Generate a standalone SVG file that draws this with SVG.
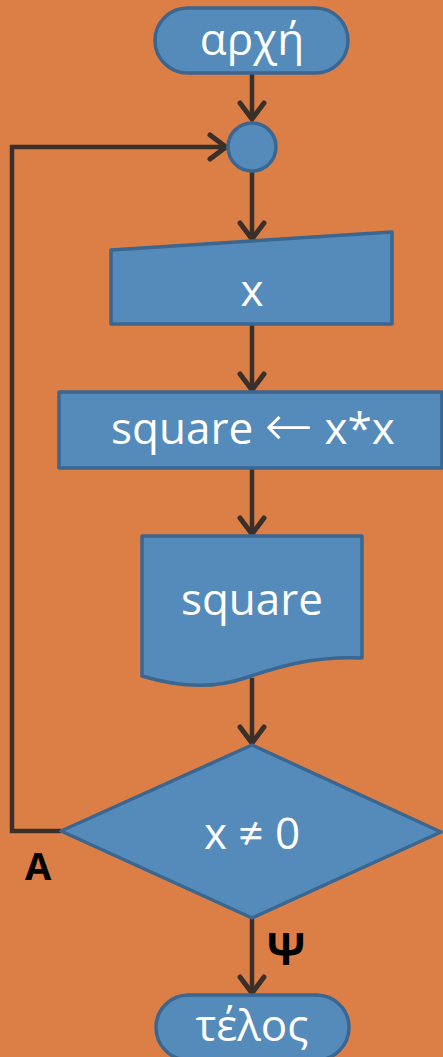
<svg xmlns="http://www.w3.org/2000/svg" width="443" height="1057" viewBox="0 0 443 1057">
<style>
.node{fill:#548BBB;stroke:#3A6690;stroke-width:3.5;stroke-linejoin:round}
.lbl{font-family:"Open Sans","Noto Sans",sans-serif;font-size:44px;fill:#ffffff;text-anchor:middle}
.conn{fill:none;stroke:#3B2F2A;stroke-width:4.5}
.tag{font-family:"Open Sans","Liberation Sans",sans-serif;font-weight:bold;fill:#000;text-anchor:middle}
</style>
<defs>
<marker id="arr" markerWidth="24" markerHeight="32" viewBox="-20 -16 24 32" refX="0" refY="0" orient="auto" markerUnits="userSpaceOnUse" overflow="visible">
<path d="M-16,-12 L0,0 L-16,12" fill="none" stroke="#3B2F2A" stroke-width="5" stroke-linecap="round" stroke-linejoin="miter"/>
</marker>
</defs>
<rect x="0" y="0" width="443" height="1057" fill="#DC7F47"/>
<g id="connectors">
<line class="conn" x1="252" y1="73" x2="252" y2="119" marker-end="url(#arr)"/>
<line class="conn" x1="252" y1="171" x2="252" y2="239" marker-end="url(#arr)"/>
<line class="conn" x1="252" y1="324" x2="252" y2="390" marker-end="url(#arr)"/>
<line class="conn" x1="252" y1="468" x2="252" y2="534" marker-end="url(#arr)"/>
<line class="conn" x1="252" y1="678" x2="252" y2="743" marker-end="url(#arr)"/>
<line class="conn" x1="252" y1="918" x2="252" y2="993" marker-end="url(#arr)"/>
<polyline class="conn" points="61,831 12,831 12,147 226,147" marker-end="url(#arr)"/>
</g>
<g id="start">
<rect class="node" x="155" y="8" width="193" height="65" rx="32.5"/>
<text class="lbl" x="252" y="55">αρχή</text>
</g>
<g id="join">
<circle class="node" cx="252" cy="147" r="24"/>
</g>
<g id="input">
<path class="node" d="M111,250 L392,232 L392,324 L111,324 Z"/>
<text class="lbl" x="252" y="306">x</text>
</g>
<g id="process">
<rect class="node" x="59" y="392" width="383" height="76"/>
<text class="lbl" x="253" y="444">square <tspan font-family="DejaVu Sans,sans-serif" font-weight="200" font-size="58" dy="2">←</tspan><tspan dy="-2"> x*x</tspan></text>
</g>
<g id="output">
<path class="node" d="M142,536 H362 V658 C310,656 275,668 245,678 C210,690 175,686 142,676 Z"/>
<text class="lbl" x="252" y="615">square</text>
</g>
<g id="decision">
<path class="node" d="M252,745 L441,832 L252,918 L61,831 Z"/>
<text class="lbl" x="252" y="849">x ≠ 0</text>
</g>
<g id="end">
<rect class="node" x="156" y="995" width="193" height="65" rx="32.5"/>
<text class="lbl" x="252" y="1041">τέλος</text>
</g>
<text class="tag" x="38" y="880" font-size="38">A</text>
<text class="tag" x="286" y="965" font-size="44">Ψ</text>
</svg>
